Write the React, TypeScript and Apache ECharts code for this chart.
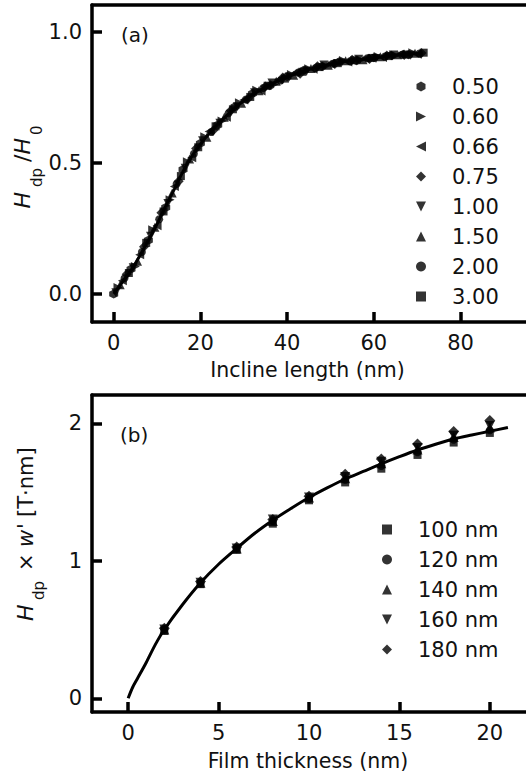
import React, { useEffect, useRef } from 'react';
import * as echarts from 'echarts';

const FONT = 'DejaVu Sans';

// ---------- Panel (a): normalized height vs incline length ----------
const LEGEND_A = ['0.50', '0.60', '0.66', '0.75', '1.00', '1.50', '2.00', '3.00'];

const X_050 = [0, 4, 8, 12, 16, 20, 24, 28, 32, 36, 40, 44, 48, 52, 56, 60, 64, 68];
const Y_050 = [0.0, 0.095, 0.205, 0.33, 0.475, 0.575, 0.645, 0.715, 0.765, 0.795, 0.83, 0.855, 0.868, 0.886, 0.89, 0.902, 0.911, 0.913];
const X_060 = [1, 5, 9, 13, 17, 21, 25, 29, 33, 37, 41, 45, 49, 53, 57, 61, 65, 69];
const Y_060 = [0.025, 0.105, 0.245, 0.36, 0.505, 0.6, 0.66, 0.73, 0.778, 0.8, 0.838, 0.86, 0.87, 0.891, 0.893, 0.906, 0.909, 0.921];
const X_066 = [2, 6, 10, 14, 18, 22, 26, 30, 34, 38, 42, 46, 50, 54, 58, 62, 66, 70];
const Y_066 = [0.05, 0.15, 0.26, 0.41, 0.52, 0.62, 0.675, 0.74, 0.775, 0.818, 0.845, 0.858, 0.88, 0.885, 0.899, 0.903, 0.916, 0.915];
const X_075 = [3, 7, 11, 15, 19, 23, 27, 31, 35, 39, 43, 47, 51, 55, 59, 63, 67, 71];
const Y_075 = [0.075, 0.18, 0.31, 0.43, 0.555, 0.625, 0.7, 0.745, 0.792, 0.826, 0.841, 0.869, 0.878, 0.894, 0.897, 0.91, 0.912, 0.92];
const X_100 = [0.5, 4.5, 8.5, 12.5, 16.5, 20.5, 24.5, 28.5, 32.5, 36.5, 40.5, 44.5, 48.5, 52.5, 56.5, 60.5, 64.5, 68.5];
const Y_100 = [0.005, 0.1, 0.22, 0.345, 0.48, 0.585, 0.652, 0.715, 0.768, 0.805, 0.828, 0.85, 0.874, 0.882, 0.896, 0.899, 0.912, 0.911];
const X_150 = [1.5, 5.5, 9.5, 13.5, 17.5, 21.5, 25.5, 29.5, 33.5, 37.5, 41.5, 45.5, 49.5, 53.5, 57.5, 61.5, 65.5, 69.5];
const Y_150 = [0.035, 0.125, 0.255, 0.385, 0.515, 0.598, 0.675, 0.728, 0.776, 0.812, 0.835, 0.861, 0.873, 0.89, 0.894, 0.905, 0.913, 0.919];
const X_200 = [2.5, 6.5, 10.5, 14.5, 18.5, 22.5, 26.5, 30.5, 34.5, 38.5, 42.5, 46.5, 50.5, 54.5, 58.5, 62.5, 66.5, 70.5];
const Y_200 = [0.06, 0.16, 0.285, 0.42, 0.535, 0.618, 0.69, 0.742, 0.786, 0.815, 0.845, 0.862, 0.879, 0.888, 0.9, 0.906, 0.913, 0.918];
const X_300 = [3.5, 7.5, 11.5, 15.5, 19.5, 23.5, 27.5, 31.5, 35.5, 39.5, 43.5, 47.5, 51.5, 55.5, 59.5, 63.5, 67.5, 71.5];
const Y_300 = [0.08, 0.195, 0.315, 0.45, 0.56, 0.64, 0.705, 0.752, 0.795, 0.822, 0.848, 0.866, 0.881, 0.892, 0.901, 0.908, 0.914, 0.921];

const FIT_A_X = [0, 2, 4, 6, 8, 10, 12, 14, 16, 18, 20, 22, 24, 26, 28, 30, 32, 34, 36, 38, 40, 42, 44, 46, 48, 50, 52, 54, 56, 58, 60, 62, 64, 66, 68, 70, 71];
const FIT_A_Y = [0, 0.045, 0.09, 0.145, 0.205, 0.267, 0.335, 0.4, 0.468, 0.525, 0.572, 0.612, 0.648, 0.68, 0.71, 0.737, 0.76, 0.78, 0.798, 0.814, 0.828, 0.84, 0.851, 0.861, 0.869, 0.877, 0.883, 0.889, 0.893, 0.897, 0.901, 0.905, 0.909, 0.913, 0.915, 0.917, 0.918];

const X_TICKS_A = [0, 20, 40, 60, 80];
const Y_TICKS_A = [0, 0.5, 1.0];

// ---------- Panel (b): H_dp x w' vs film thickness ----------
const LEGEND_B = ['100 nm', '120 nm', '140 nm', '160 nm', '180 nm'];
const X_B = [2, 4, 6, 8, 10, 12, 14, 16, 18, 20];
const Y_B100 = [0.49, 0.83, 1.08, 1.27, 1.44, 1.57, 1.67, 1.77, 1.86, 1.93];
const Y_B120 = [0.5, 0.84, 1.09, 1.29, 1.45, 1.59, 1.69, 1.79, 1.88, 1.95];
const Y_B140 = [0.5, 0.84, 1.09, 1.29, 1.46, 1.6, 1.71, 1.81, 1.9, 1.97];
const Y_B160 = [0.5, 0.84, 1.09, 1.3, 1.46, 1.61, 1.72, 1.82, 1.91, 1.98];
const Y_B180 = [0.51, 0.85, 1.1, 1.3, 1.47, 1.63, 1.74, 1.85, 1.94, 2.02];

const FIT_B_X = [0, 0.25, 0.5, 1, 1.5, 2, 3, 4, 5, 6, 7, 8, 9, 10, 11, 12, 13, 14, 15, 16, 17, 18, 19, 20, 21];
const FIT_B_Y = [0, 0.08, 0.14, 0.26, 0.39, 0.5, 0.68, 0.84, 0.975, 1.09, 1.2, 1.295, 1.38, 1.46, 1.53, 1.595, 1.65, 1.705, 1.757, 1.806, 1.848, 1.886, 1.915, 1.942, 1.97];

const X_TICKS_B = [0, 5, 10, 15, 20];
const Y_TICKS_B = [0, 1, 2];

// ---------- styles ----------
const HEX = 'path://M5,0L9.5,2.6L9.5,7.4L5,10L0.5,7.4L0.5,2.6Z';
const TRI_R = 'path://M0,0L10,5L0,10Z';
const TRI_L = 'path://M10,0L0,5L10,10Z';
const TRI_D = 'path://M0,0L10,0L5,10Z';
const TRI_U = 'path://M5,0L10,10L0,10Z';
const DIAM = 'path://M5,0L10,5L5,10L0,5Z';
const SQR = 'path://M0,0L10,0L10,10L0,10Z';
const SYMBOLS_A = [HEX, TRI_R, TRI_L, DIAM, TRI_D, TRI_U, 'circle', SQR];
const SIZES_A = [9, 9, 9, 10, 9, 9, 8, 8];
const SYMBOLS_B = [SQR, 'circle', TRI_U, TRI_D, DIAM];
const SIZES_B = [8, 8, 10, 10, 11];

const zip = (xs: number[], ys: number[]) => xs.map((x, i) => [x, ys[i]]);

export default function App() {
  const ref = useRef<HTMLDivElement>(null);

  useEffect(() => {
    if (!ref.current) return;
    const chart = echarts.init(ref.current, undefined, { renderer: 'svg' });

    const dataA = [
      zip(X_050, Y_050), zip(X_060, Y_060), zip(X_066, Y_066), zip(X_075, Y_075),
      zip(X_100, Y_100), zip(X_150, Y_150), zip(X_200, Y_200), zip(X_300, Y_300),
    ];
    const dataB = [Y_B100, Y_B120, Y_B140, Y_B160, Y_B180].map((ys) => zip(X_B, ys));

    const tickLabel = { fontSize: 21, color: '#111', fontFamily: FONT };
    const nameStyle = { fontSize: 20.5, color: '#111', fontFamily: FONT };
    const tick = (vals: number[]) => ({
      inside: true, length: 10, lineStyle: { width: 3.5, color: '#000' }, customValues: vals,
    });
    const frameLine = { show: true, onZero: false, lineStyle: { color: '#000', width: 3.5 } };

    const seriesA = LEGEND_A.map((name, i) => ({
      type: 'scatter', name, xAxisIndex: 0, yAxisIndex: 0,
      symbol: SYMBOLS_A[i], symbolSize: SIZES_A[i],
      itemStyle: { color: '#000' }, data: dataA[i],
    }));
    const seriesB = LEGEND_B.map((name, i) => ({
      type: 'scatter', name, xAxisIndex: 1, yAxisIndex: 1,
      symbol: SYMBOLS_B[i], symbolSize: SIZES_B[i],
      itemStyle: { color: '#000' }, data: dataB[i],
    }));

    const rotText = (text: string, x: number, y: number, size: number, italic = false) => ({
      type: 'text', x, y, rotation: Math.PI / 2, silent: true,
      style: {
        text, fontSize: size, fontFamily: FONT, fontStyle: italic ? 'italic' : 'normal',
        fill: '#111', align: 'left', verticalAlign: 'middle',
      },
    });

    const topAxis = (gridIndex: number, min: number, max: number) => ({
      gridIndex, type: 'value', position: 'top', min, max,
      axisLine: frameLine, axisTick: { show: false }, axisLabel: { show: false }, splitLine: { show: false },
    });

    const option: any = {
      animation: false,
      grid: [
        { left: 92, top: 5, width: 434, height: 317, show: false, outerBoundsMode: 'none', containLabel: false },
        { left: 92, top: 395, width: 434, height: 317, show: false, outerBoundsMode: 'none', containLabel: false },
      ],
      xAxis: [
        {
          gridIndex: 0, type: 'value', position: 'bottom', min: -5, max: 95.1,
          axisLine: frameLine, splitLine: { show: false }, axisTick: tick(X_TICKS_A),
          axisLabel: { ...tickLabel, margin: 10, customValues: X_TICKS_A },
          name: 'Incline length (nm)', nameLocation: 'middle', nameGap: 37,
          nameTextStyle: { ...nameStyle, padding: [0, 3, 0, 0] },
        },
        {
          gridIndex: 1, type: 'value', position: 'bottom', min: -2, max: 22,
          axisLine: frameLine, splitLine: { show: false }, axisTick: tick(X_TICKS_B),
          axisLabel: { ...tickLabel, margin: 10, customValues: X_TICKS_B },
          name: 'Film thickness (nm)', nameLocation: 'middle', nameGap: 38,
          nameTextStyle: { ...nameStyle, padding: [0, 2, 0, 0] },
        },
        topAxis(0, -5, 95.1),
        topAxis(1, -2, 22),
      ],
      yAxis: [
        {
          gridIndex: 0, type: 'value', position: 'left', min: -0.107, max: 1.103,
          axisLine: frameLine, splitLine: { show: false }, axisTick: tick(Y_TICKS_A),
          axisLabel: { ...tickLabel, margin: 10, customValues: Y_TICKS_A, formatter: (v: number) => v.toFixed(1) },
        },
        {
          gridIndex: 1, type: 'value', position: 'left', min: -0.1, max: 2.206,
          axisLine: frameLine, splitLine: { show: false }, axisTick: tick(Y_TICKS_B),
          axisLabel: { ...tickLabel, margin: 10, customValues: Y_TICKS_B, formatter: (v: number) => String(v) },
        },
      ],
      legend: [
        {
          data: LEGEND_A, orient: 'vertical', left: 416, top: 76, padding: 0,
          itemWidth: 10, itemHeight: 10, itemGap: 9, selectedMode: false,
          textStyle: { fontSize: 21, color: '#111', fontFamily: FONT, padding: [0, 0, 0, 21] },
        },
        {
          data: LEGEND_B, orient: 'vertical', left: 382, top: 519, padding: 0,
          itemWidth: 10, itemHeight: 10, itemGap: 9, selectedMode: false,
          textStyle: { fontSize: 21, color: '#111', fontFamily: FONT, padding: [0, 0, 0, 21] },
        },
      ],
      graphic: [
        { type: 'text', x: 121, y: 35, silent: true, style: { text: '(a)', fontSize: 20, fontFamily: FONT, fill: '#111', align: 'left', verticalAlign: 'middle' } },
        { type: 'text', x: 120, y: 435, silent: true, style: { text: '(b)', fontSize: 20, fontFamily: FONT, fill: '#111', align: 'left', verticalAlign: 'middle' } },
        // y name (a): H_dp /H_0
        rotText('H', 22.5, 208.5, 22, true),
        rotText('dp', 37, 187, 15),
        rotText('/', 22.5, 162, 22),
        rotText('H', 22.5, 154.5, 22, true),
        rotText('0', 37, 135, 15),
        // y name (b): H_dp × w' [T·nm]
        rotText('H', 25.5, 621, 22, true),
        rotText('dp', 39, 600, 15),
        rotText('×', 25.6, 571, 21),
        rotText('w', 25.6, 547, 21, true),
        rotText("'", 25.6, 529, 21),
        rotText('[T·nm]', 25.6, 517, 21),
      ],
      series: [
        {
          type: 'line', name: 'fitA', xAxisIndex: 0, yAxisIndex: 0, data: zip(FIT_A_X, FIT_A_Y),
          showSymbol: false, smooth: 0.3, lineStyle: { color: '#000', width: 3 },
        },
        ...seriesA,
        {
          type: 'line', name: 'fitB', xAxisIndex: 1, yAxisIndex: 1, data: zip(FIT_B_X, FIT_B_Y),
          showSymbol: false, smooth: 0.3, lineStyle: { color: '#000', width: 3 },
        },
        ...seriesB,
      ],
    };

    chart.setOption(option);
    return () => chart.dispose();
  }, []);

  return (
    <div
      ref={ref}
      style={{ position: 'fixed', left: 0, top: 0, width: 526, height: 780, background: '#fff' }}
    />
  );
}
